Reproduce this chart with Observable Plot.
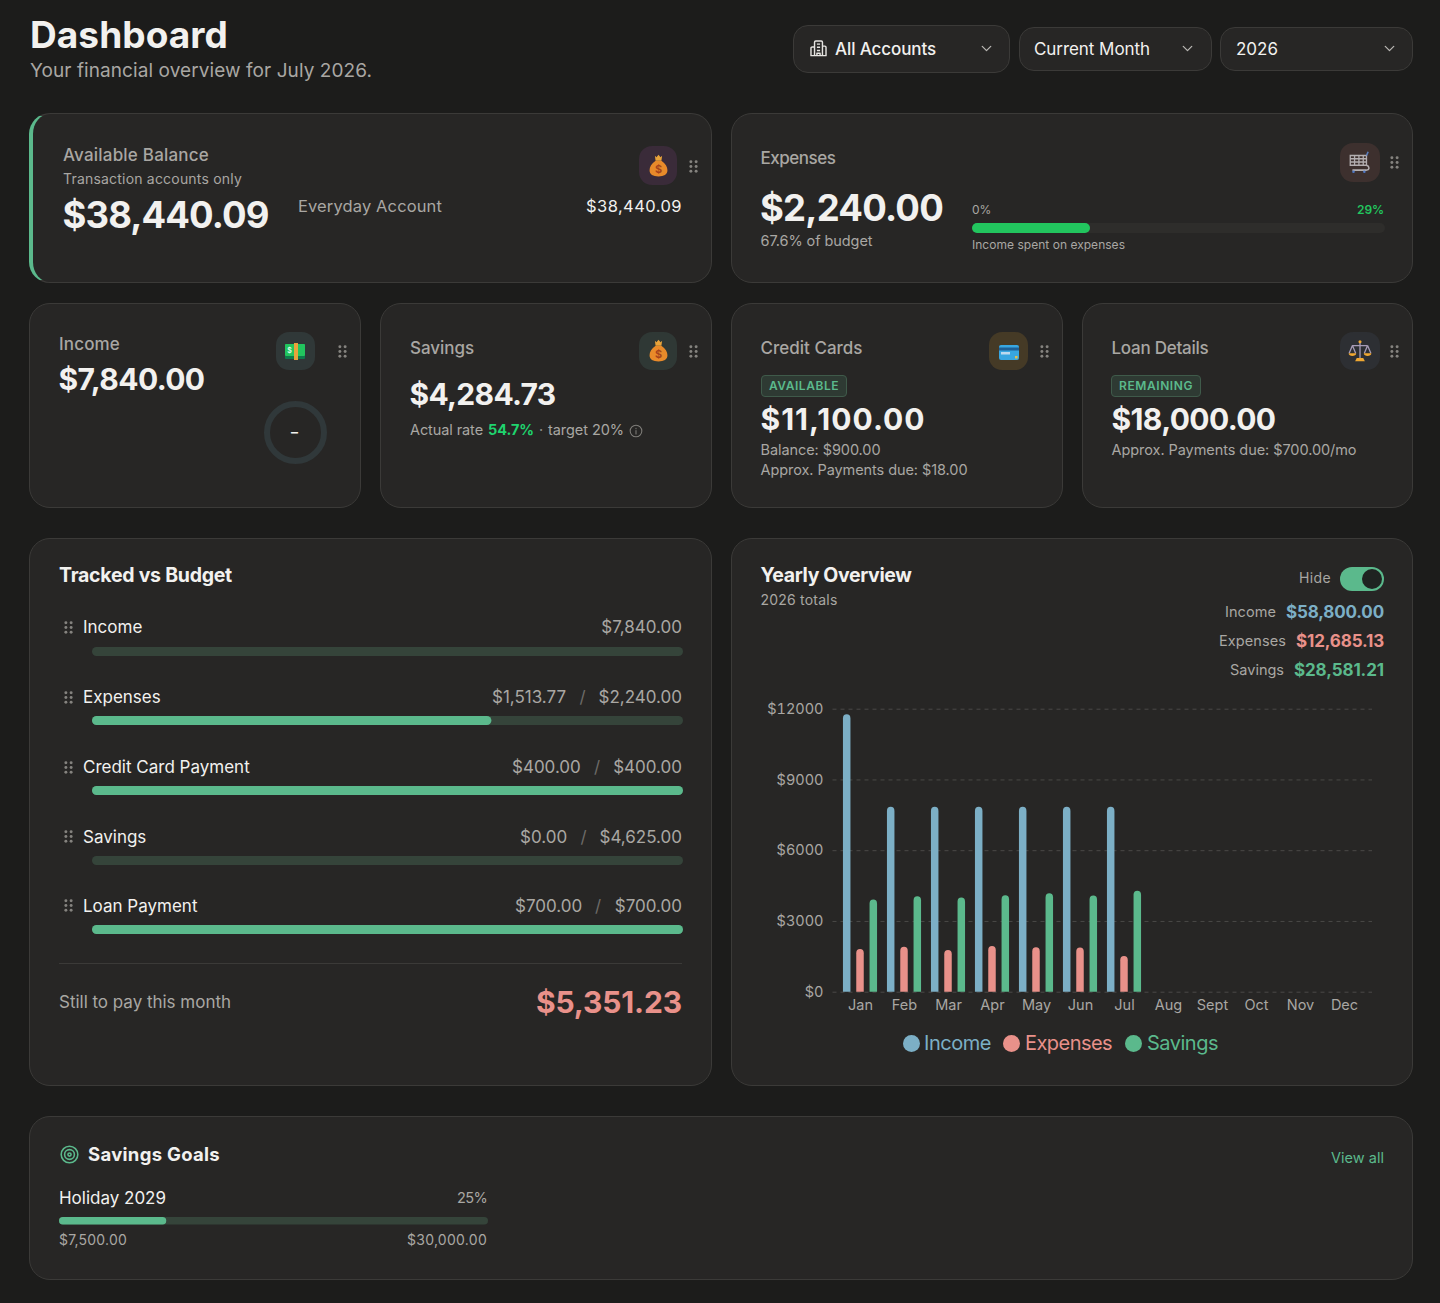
<!DOCTYPE html>
<html lang="en">
<head>
<meta charset="utf-8">
<title>Dashboard</title>
<script src="https://cdn.jsdelivr.net/npm/d3@7"></script>
<script src="https://cdn.jsdelivr.net/npm/@observablehq/plot@0.6"></script>
<style>
  html,body{margin:0;padding:0;background:#1c1c1b;}
  #page{position:relative;width:1440px;height:1303px;overflow:hidden;background:#1c1c1b;font-family:Inter,"Noto Sans",sans-serif;color:#f2f1ef;}
  .card{position:absolute;box-sizing:border-box;background:#272625;border:1px solid #3b3a38;border-radius:21px;}
  .t{position:absolute;white-space:nowrap;line-height:1;transform:translateY(-50%);}
  .abs{position:absolute;}
  .abs svg, svg.abs{display:block;}
  .iconbox{position:absolute;border-radius:13px;display:flex;align-items:center;justify-content:center;}
  .select{position:absolute;box-sizing:border-box;background:#272625;border:1px solid #3b3a38;border-radius:15px;}
</style>
</head>
<body>
<div id="page"></div>
<script>
// ---------- chart data ----------
const months = ["Jan","Feb","Mar","Apr","May","Jun","Jul","Aug","Sept","Oct","Nov","Dec"];
const seriesNames = ["Income","Expenses","Savings"];
const incomeValues  = [11760,7840,7840,7840,7840,7840,7840];
const expenseValues = [1810,1905,1765,1935,1880,1876.36,1513.77];
const savingsValues = [3908,4049,3994,4092,4176,4077.48,4284.73];
const yTicks = [0,3000,6000,9000,12000];
const yearlyTotals = ["$58,800.00","$12,685.13","$28,581.21"];

const trackedNames  = ["Income","Expenses","Credit Card Payment","Savings","Loan Payment"];
const trackedActual = [0,1513.77,400,0,700];
const trackedBudget = [7840,2240,400,4625,700];
const trackedLeftText  = [null,"$1,513.77","$400.00","$0.00","$700.00"];
const trackedRightText = ["$7,840.00","$2,240.00","$400.00","$4,625.00","$700.00"];

const expenseShare = [2240,7840];
const goalValues = [7500,30000];

// ---------- colours ----------
const C = {text:"#f2f1ef",muted:"#a9a7a3",dim:"#8f8d89",blue:"#7cafc6",red:"#e9918a",green:"#5bb98c",vivid:"#22c55e",track:"#35443a",grid:"#4a4947",handle:"#85837f"};
const page = document.getElementById("page");

// ---------- layout helpers ----------
function T(x,y,text,o={}){
  const e=document.createElement("div");e.className="t";e.textContent=text;
  e.style.fontSize=(o.s||14.5)+"px";e.style.fontWeight=o.b||400;e.style.color=o.c||C.muted;
  if(o.f)e.style.fontFamily=o.f;
  if(o.r)e.style.right=(1440-x)+"px";else e.style.left=x+"px";
  e.style.top=y+"px";page.appendChild(e);
  if(o.w){const a=e.getBoundingClientRect().width;e.style.letterSpacing=((o.w-a)/text.length)+"px";}
  return e;
}
function box(cls,x,y,x2,y2,style={}){
  const e=document.createElement("div");e.className=cls;
  e.style.left=x+"px";e.style.top=y+"px";e.style.width=(x2-x)+"px";e.style.height=(y2-y)+"px";
  Object.assign(e.style,style);page.appendChild(e);return e;
}
function svgAt(cx,cy,size,inner){
  const e=document.createElement("div");e.className="abs";
  e.style.left=(cx-size/2)+"px";e.style.top=(cy-size/2)+"px";e.style.width=size+"px";e.style.height=size+"px";
  e.innerHTML=`<svg width="${size}" height="${size}" viewBox="0 0 24 24" fill="none">${inner}</svg>`;
  page.appendChild(e);return e;
}
function handle(cx,cy){
  const dots=[6.5,12,17.5].flatMap(y=>[9,15].map(x=>`<circle cx="${x}" cy="${y}" r="1.7" fill="${C.handle}"/>`)).join("");
  svgAt(cx,cy,21,dots);
}
const bag=`<path d="M9 4l1.3 1.2L12 3.2l1.7 2L15 4l-.6 4H9.6z" fill="#e8a33a"/><path d="M9.6 8h4.8c3.4 2.2 5 5.2 5 8 0 3.6-3 5-7.4 5s-7.4-1.4-7.4-5c0-2.8 1.6-5.8 5-8z" fill="#e88a2a"/><text x="12" y="18" font-size="9" font-weight="700" text-anchor="middle" fill="#a5431c" font-family="Inter">$</text>`;
const cash=`<rect x="2" y="5" width="20" height="15" rx="1" fill="#0f7a4c"/><rect x="2" y="5" width="20" height="12" rx="1" fill="#22c55e"/><rect x="11" y="4" width="4" height="17" fill="#e8a33a"/><text x="6.5" y="13.5" font-size="7" font-weight="700" text-anchor="middle" fill="#d9f7e5" font-family="Inter">$</text>`;
const cart=`<g stroke="#b3aeb0" stroke-width="1.2"><path d="M3 6h15v9H3zM3 9h15M3 12h15M7 6v9M11 6v9M15 6v9"/></g><path d="M18 15c3 1 3 4 0 4.5H5" stroke="#b3aeb0" stroke-width="1.4"/><path d="M18 6l1.5-3.5" stroke="#5a7fc0" stroke-width="1.5"/><circle cx="6" cy="21" r="1.2" fill="#4f78c4"/><circle cx="16" cy="21" r="1.2" fill="#4f78c4"/>`;
const ccard=`<rect x="2" y="5" width="20" height="15" rx="2" fill="#38a6e0"/><rect x="2" y="7.5" width="20" height="3" fill="#1d5f96"/><rect x="4" y="12" width="9" height="2.5" fill="#bcd9ee"/><rect x="18" y="16" width="2.5" height="2.5" fill="#e5c04a"/>`;
const scales=`<path d="M12 3.5V19M5 7h14M5 7l-3 7M5 7l3 7M19 7l-3 7M19 7l3 7" stroke="#a79bb5" stroke-width="1.2"/><path d="M1.5 14h7c0 3.4-7 3.4-7 0zM15.5 14h7c0 3.4-7 3.4-7 0z" fill="#f0a832"/><path d="M7.5 21.5h9L15 18.5H9z" fill="#f0a832"/><circle cx="12" cy="3.5" r="1.4" fill="#f0a832"/>`;
const chevron=`<path d="M6 9l6 6 6-6" stroke="#b9b7b3" stroke-width="1.8" stroke-linecap="round" stroke-linejoin="round"/>`;
const building=`<g stroke="#e6e4e1" stroke-width="1.8" stroke-linejoin="round"><path d="M7 21V4a1.5 1.5 0 0 1 1.5-1.5h7A1.5 1.5 0 0 1 17 4v17zM7 10H4a1.5 1.5 0 0 0-1.5 1.5V21H7M17 9h3a1.5 1.5 0 0 1 1.5 1.5V21H17M10 6.5h4M10 10.5h4M10 14.5h4M10 21v-3h4v3"/></g>`;
const info=`<circle cx="12" cy="12" r="10" stroke="#7f7d79" stroke-width="1.8"/><path d="M12 11v6M12 7.5v.5" stroke="#7f7d79" stroke-width="1.8" stroke-linecap="round"/>`;
const target=`<g stroke="${C.green}" stroke-width="2"><circle cx="12" cy="12" r="10.5"/><circle cx="12" cy="12" r="6.2"/><circle cx="12" cy="12" r="2"/></g>`;

// progress bar, drawn by Plot
function progress(x,y,w,h,value,max,fill,track){
  const p=Plot.plot({width:w,height:h,margin:0,
    x:{domain:[0,max],range:[0,w],axis:null},
    style:{background:"transparent",display:"block"},
    marks:[
      Plot.barX([max],{x:d=>d,fill:track,rx:h/2}),
      Plot.barX([value],{x:d=>d,fill:fill,rx:h/2})
    ]});
  p.style.position="absolute";p.style.left=x+"px";p.style.top=y+"px";
  page.appendChild(p);
}

// ---------- header ----------
T(30,34,"Dashboard",{s:37,b:700,c:C.text,w:198});
T(30,70,"Your financial overview for July 2026.",{s:19,c:C.muted,w:342});
box("select",793,25,1010,73);
svgAt(818,48.5,19,building);
T(835,49,"All Accounts",{s:17,b:500,c:C.text,w:101});
svgAt(986,48.5,17,chevron);
box("select",1019,27,1212,71);
T(1034,49,"Current Month",{s:17,c:C.text,w:116});
svgAt(1187,48.5,17,chevron);
box("select",1220,27,1413,71);
T(1236,49,"2026",{s:17,c:C.text,w:42});
svgAt(1389,48.5,17,chevron);

// ---------- top cards ----------
box("card",29,113,712,283,{borderLeft:"4px solid "+C.green});
T(63,155,"Available Balance",{s:17,b:500,c:C.muted,w:146});
T(63,179,"Transaction accounts only",{s:14,c:C.muted,w:179});
T(62.5,215,"$38,440.09",{s:36.5,b:700,c:C.text,w:206});
T(298,206,"Everyday Account",{s:16.5,c:C.muted,w:144});
T(682,206,"$38,440.09",{s:16.5,c:C.text,r:1,w:96});
box("iconbox",639,146,677,185,{background:"#3a2b39"});
svgAt(658,165,29,bag);handle(693,166);

box("card",731,113,1413,283);
T(760.5,158,"Expenses",{s:17,b:500,c:C.muted,w:75});
T(760,208,"$2,240.00",{s:36.5,b:700,c:C.text,w:183});
T(760.5,241,"67.6% of budget",{s:14.5,c:C.muted,w:112});
T(972,210,"0%",{s:12,c:C.muted,w:19});
T(1384,210,"29%",{s:12,b:600,c:C.vivid,r:1,w:27});
progress(972,223,413,10,expenseShare[0],expenseShare[1],C.vivid,"#2e2d2b");
T(972,245,"Income spent on expenses",{s:12,c:C.muted,w:153});
box("iconbox",1340,143,1380,182,{background:"#3d302e"});
svgAt(1359.5,162,26,cart);handle(1394,162);

// ---------- second row ----------
box("card",29,303,361,508);
T(59,344,"Income",{s:17,b:500,c:C.muted,w:61});
T(58.5,379,"$7,840.00",{s:30,b:700,c:C.text,w:146});
box("iconbox",276,332,315,370,{background:"#303838"});
svgAt(295,351,24,cash);handle(342,351);
box("abs",264,401,327,464,{border:"6px solid #30383a",borderRadius:"50%",boxSizing:"border-box"});
T(291,432,"–",{s:14,b:600,c:C.text});

box("card",380,303,712,508);
T(410,348,"Savings",{s:17,b:500,c:C.muted,w:64});
T(409.5,394,"$4,284.73",{s:30,b:700,c:C.text,w:146});
T(410,430,"Actual rate",{s:14.5,c:C.muted,w:73});
T(488,430,"54.7%",{s:14.5,b:700,c:"#1fd46e",w:46});
T(539,430,"·",{s:14.5,c:C.dim});
T(548,430,"target 20%",{s:14.5,c:C.muted,w:76});
svgAt(636,430.5,14,info);
box("iconbox",639,332,677,370,{background:"#2f3835"});
svgAt(658,350,29,bag);handle(693,351);

box("card",731,303,1063,508);
T(760.5,348,"Credit Cards",{s:17,b:500,c:C.muted,w:102});
box("abs",760.5,375,847,397,{background:"#2e3a33",border:"1px solid #3f5a4a",borderRadius:"4px",boxSizing:"border-box"});
T(769,386,"AVAILABLE",{s:12,b:600,c:C.green,w:70});
T(760.5,419,"$11,100.00",{s:30,b:700,c:C.text,w:165});
T(760.5,450,"Balance: $900.00",{s:14.5,c:C.muted,w:120});
T(760.5,470,"Approx. Payments due: $18.00",{s:14.5,c:C.muted,w:207});
box("iconbox",989,332,1028,370,{background:"#453a26"});
svgAt(1008.5,352,24,ccard);handle(1044,351);

box("card",1082,303,1413,508);
T(1111.5,348,"Loan Details",{s:17,b:500,c:C.muted,w:97});
box("abs",1111,375,1201,397,{background:"#2e3a33",border:"1px solid #3f5a4a",borderRadius:"4px",boxSizing:"border-box"});
T(1119,386,"REMAINING",{s:12,b:600,c:C.green,w:74});
T(1111.5,419,"$18,000.00",{s:30,b:700,c:C.text,w:164});
T(1111.5,450,"Approx. Payments due: $700.00/mo",{s:14.5,c:C.muted,w:245});
box("iconbox",1340,332,1380,370,{background:"#2d2f33"});
svgAt(1359.5,351,26,scales);handle(1394,351);

// ---------- Tracked vs Budget ----------
box("card",29,538,712,1086);
T(59,576,"Tracked vs Budget",{s:19.5,b:700,c:C.text,w:173});
const rowY=[627,697,767,836.5,905.5];
const barY=[646.5,716,786,855.5,925];
const leftX=[0,492,512,520,515];
const slashX=[0,579.5,594,580.5,595];
trackedNames.forEach((n,i)=>{
  handle(68,rowY[i]);
  T(83,rowY[i],n,{s:17,c:C.text});
  if(trackedLeftText[i]){
    T(leftX[i],rowY[i],trackedLeftText[i],{s:17,c:C.muted});
    T(slashX[i],rowY[i],"/",{s:17,c:"#6d6b68"});
  }
  T(682,rowY[i],trackedRightText[i],{s:17,c:C.muted,r:1});
  progress(92,barY[i],591,9,trackedActual[i],trackedBudget[i],C.green,C.track);
});
box("abs",59,963,682,964,{background:"#3b3a38"});
T(59,1002,"Still to pay this month",{s:17,c:C.muted,w:172});
T(682,1002,"$5,351.23",{s:30,b:700,c:C.red,r:1,w:146});

// ---------- Yearly Overview ----------
box("card",731,538,1413,1086);
T(760.5,576,"Yearly Overview",{s:19.5,b:700,c:C.text,w:151});
T(760.5,600,"2026 totals",{s:14,c:C.muted,w:77});
T(1331,578,"Hide",{s:14,c:C.muted,r:1,w:32});
box("abs",1340,567,1384,591,{background:C.green,borderRadius:"12px"});
box("abs",1362,569,1382,589,{background:"#1f2321",borderRadius:"50%"});
const totalsX=[1225,1219,1230], totalsY=[612,641,670], totalsC=[C.blue,C.red,C.green], totalsW=[51,67,54], totalsVW=[98,88,90];
seriesNames.forEach((n,i)=>{
  T(totalsX[i],totalsY[i],n,{s:14.5,c:C.muted,w:totalsW[i]});
  T(1384,totalsY[i],yearlyTotals[i],{s:17,b:700,c:totalsC[i],r:1,w:totalsVW[i]});
});

const seriesOffset = [-13.3,0,13.3];
const seriesValues = [incomeValues,expenseValues,savingsValues];
const bandInset = 18.25;

const chart = Plot.plot({
  width:611,height:330,
  marginLeft:71.5,marginRight:0,marginTop:8.7,marginBottom:38.3,
  style:{background:"transparent",fontFamily:"Inter",fontSize:"14.5px",color:C.muted,overflow:"visible"},
  x:{domain:months,padding:0,label:null,axis:null},
  y:{domain:[0,12000],label:null,axis:null},
  color:{domain:seriesNames,range:[C.blue,C.red,C.green]},
  marks:[
    Plot.ruleY(yTicks,{stroke:C.grid,strokeWidth:1,strokeDasharray:"4 4"}),
    Plot.axisY({ticks:yTicks,tickSize:0,tickPadding:9.5,label:null,tickFormat:d=>"$"+d,fill:C.muted}),
    Plot.axisX({anchor:"bottom",tickSize:0,tickPadding:8,label:null,fill:C.muted}),
    ...seriesNames.map((name,k)=>Plot.barY(seriesValues[k],{
      x:(d,i)=>months[i],y:d=>d,fill:()=>name,dx:seriesOffset[k],
      insetLeft:bandInset,insetRight:bandInset,insetBottom:-6,rx:4.2,clip:"frame"}))
  ]
});
chart.style.position="absolute";chart.style.left="761px";chart.style.top="700px";
page.appendChild(chart);

// legend
const legendDotX=[911,1011,1133], legendTextX=[924,1025,1147], legendW=[67,87,71];
seriesNames.forEach((n,i)=>{
  box("abs",legendDotX[i]-8.5,1034.5,legendDotX[i]+8.5,1051.5,{background:totalsC[i],borderRadius:"50%"});
  T(legendTextX[i],1043,n,{s:20,c:totalsC[i],w:legendW[i]});
});

// ---------- Savings Goals ----------
box("card",29,1116,1413,1280);
svgAt(69,1154,19,target);
T(88,1154,"Savings Goals",{s:18.5,b:700,c:C.text,w:132});
T(1384,1158,"View all",{s:14.5,c:C.green,r:1,w:53});
T(59,1198,"Holiday 2029",{s:17,c:C.text,w:107});
T(487,1198,"25%",{s:14.5,c:C.muted,r:1,w:30});
progress(59,1217,429,7.5,goalValues[0],goalValues[1],C.green,C.track);
T(59,1240,"$7,500.00",{s:14,c:C.muted,w:68});
T(487,1240,"$30,000.00",{s:14,c:C.muted,r:1,w:80});
</script>
</body>
</html>
